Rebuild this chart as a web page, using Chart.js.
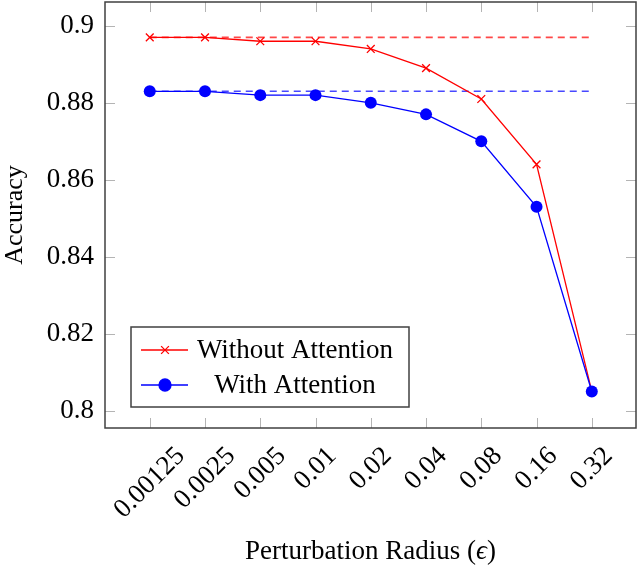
<!DOCTYPE html>
<html>
<head>
<meta charset="utf-8">
<script src="https://cdn.jsdelivr.net/npm/chart.js@4.4.1/dist/chart.umd.min.js"></script>
<style>
  html, body { margin: 0; padding: 0; background: #fff; }
  #wrap { width: 638px; height: 568px; }
</style>
</head>
<body>
<div id="wrap"><canvas id="accChart" width="638" height="568"></canvas></div>
<script>
// Perturbation radii (x categories)
const radii = ["0.00125", "0.0025", "0.005", "0.01", "0.02", "0.04", "0.08", "0.16", "0.32"];

// Accuracy values
const withoutAttention = [0.897, 0.897, 0.896, 0.896, 0.894, 0.889, 0.881, 0.864, 0.805];
const withAttention = [0.883, 0.883, 0.882, 0.882, 0.880, 0.877, 0.870, 0.853, 0.805];

// Dashed reference levels (clean accuracy)
const baselineWithout = 0.897;
const baselineWith = 0.883;

// Y axis ticks
const yTicks = [0.8, 0.82, 0.84, 0.86, 0.88, 0.9];
const yTickLabels = ["0.8", "0.82", "0.84", "0.86", "0.88", "0.9"];

const serif = "'Liberation Serif', 'Times New Roman', serif";
const RED = "#ff0000";
const BLUE = "#0000ff";

const toPoints = (vals) => vals.map((v, i) => ({ x: i, y: v }));
const lastIdx = radii.length - 1;

// pgfplots look: inward ticks on all four sides, frame, centred rotated labels, legend
const framePlugin = {
    id: "frame",
    afterDatasetsDraw(chart) {
        const { ctx, chartArea: a, scales } = chart;
        ctx.save();
        ctx.strokeStyle = "#b4b4b4";
        ctx.lineWidth = 1;
        ctx.beginPath();
        scales.x.ticks.forEach((t) => {
            const px = Math.round(scales.x.getPixelForValue(t.value)) + 0.5;
            ctx.moveTo(px, a.bottom); ctx.lineTo(px, a.bottom - 10);
            ctx.moveTo(px, a.top); ctx.lineTo(px, a.top + 10);
        });
        scales.y.ticks.forEach((t) => {
            const py = Math.round(scales.y.getPixelForValue(t.value)) + 0.5;
            ctx.moveTo(a.left, py); ctx.lineTo(a.left + 10, py);
            ctx.moveTo(a.right, py); ctx.lineTo(a.right - 10, py);
        });
        ctx.stroke();
        ctx.strokeStyle = "#404040";
        ctx.lineWidth = 1.5;
        ctx.strokeRect(a.left, a.top, a.right - a.left, a.bottom - a.top);
        ctx.restore();
    },
    afterDraw(chart) {
        const { ctx, chartArea: a, scales } = chart;
        ctx.save();

        // x tick labels, rotated 45 deg and centred on the tick
        ctx.fillStyle = "#000";
        ctx.font = "27px " + serif;
        ctx.textAlign = "center";
        ctx.textBaseline = "middle";
        scales.x.ticks.forEach((t) => {
            const label = radii[t.value];
            const w = ctx.measureText(label).width;
            const px = scales.x.getPixelForValue(t.value);
            const cy = a.bottom + 24 + 0.7071 * w / 2;
            ctx.save();
            ctx.translate(px, cy);
            ctx.rotate(-Math.PI / 4);
            ctx.fillText(label, 0, 0);
            ctx.restore();
        });

        // x axis title with italic epsilon
        const parts = [
            { s: "Perturbation Radius (", f: "27px " + serif },
            { s: "ϵ", f: "italic 27px " + serif },
            { s: ")", f: "27px " + serif }
        ];
        let total = 0;
        parts.forEach((p) => { ctx.font = p.f; p.w = ctx.measureText(p.s).width; total += p.w; });
        let tx = (a.left + a.right) / 2 - total / 2;
        ctx.textAlign = "left";
        ctx.textBaseline = "middle";
        parts.forEach((p) => { ctx.font = p.f; ctx.fillText(p.s, tx, 552); tx += p.w; });

        // legend box in lower left of the plot
        const bx = a.left + 26, by = a.bottom - 101, bw = 278, bh = 80;
        ctx.fillStyle = "#fff";
        ctx.fillRect(bx, by, bw, bh);
        ctx.strokeStyle = "#404040";
        ctx.lineWidth = 1.5;
        ctx.strokeRect(bx, by, bw, bh);
        const rows = [
            { label: "Without Attention", color: RED, style: "crossRot", r: 5.5, y: by + 23 },
            { label: "With Attention", color: BLUE, style: "circle", r: 6, y: by + 58 }
        ];
        rows.forEach((row) => {
            ctx.strokeStyle = row.color;
            ctx.fillStyle = row.color;
            ctx.lineWidth = 1.3;
            ctx.beginPath();
            ctx.moveTo(bx + 10, row.y);
            ctx.lineTo(bx + 57, row.y);
            ctx.stroke();
            Chart.helpers.drawPoint(ctx, { pointStyle: row.style, radius: row.r, borderWidth: 1.3 }, bx + 34, row.y);
            ctx.fillStyle = "#000";
            ctx.font = "27px " + serif;
            ctx.textAlign = "center";
            ctx.textBaseline = "middle";
            ctx.fillText(row.label, bx + 164, row.y + 1);
        });
        ctx.restore();
    }
};

const ctx = document.getElementById("accChart").getContext("2d");
const accChart = new Chart(ctx, {
    type: "line",
    data: {
        datasets: [
            {
                label: "Without Attention",
                data: toPoints(withoutAttention),
                borderColor: RED,
                backgroundColor: RED,
                borderWidth: 1.3,
                pointStyle: "crossRot",
                pointRadius: 5.5,
                pointBorderWidth: 1.3,
                tension: 0,
                order: 1
            },
            {
                label: "With Attention",
                data: toPoints(withAttention),
                borderColor: BLUE,
                backgroundColor: BLUE,
                borderWidth: 1.3,
                pointStyle: "circle",
                pointRadius: 6,
                pointBorderWidth: 0,
                tension: 0,
                order: 0
            },
            {
                label: "baseline without",
                data: [{ x: 0, y: baselineWithout }, { x: lastIdx, y: baselineWithout }],
                borderColor: "rgba(255, 40, 40, 0.85)",
                borderWidth: 1.6,
                borderDash: [7, 5],
                pointRadius: 0,
                order: 2
            },
            {
                label: "baseline with",
                data: [{ x: 0, y: baselineWith }, { x: lastIdx, y: baselineWith }],
                borderColor: "rgba(40, 40, 255, 0.85)",
                borderWidth: 1.6,
                borderDash: [7, 5],
                pointRadius: 0,
                order: 3
            }
        ]
    },
    options: {
        responsive: false,
        animation: false,
        layout: { autoPadding: false, padding: { top: 2, right: 2, left: 0, bottom: 0 } },
        plugins: {
            legend: { display: false },
            tooltip: { enabled: false }
        },
        scales: {
            x: {
                type: "linear",
                min: -0.81,
                max: lastIdx + 0.8,
                afterBuildTicks: (scale) => {
                    scale.ticks = radii.map((_, i) => ({ value: i }));
                },
                afterFit: (scale) => {
                    scale.height = 140;
                    scale.paddingLeft = 0;
                    scale.paddingRight = 0;
                },
                grid: { display: false, drawTicks: false },
                border: { display: false },
                ticks: { display: false }
            },
            y: {
                min: 0.7955,
                max: 0.9062,
                afterBuildTicks: (scale) => {
                    scale.ticks = yTicks.map((v) => ({ value: v }));
                },
                afterFit: (scale) => {
                    scale.width = 105;
                    scale.paddingTop = 0;
                    scale.paddingBottom = 0;
                },
                grid: { display: false, drawTicks: false },
                border: { display: false },
                ticks: {
                    color: "#000",
                    font: { family: serif, size: 27 },
                    padding: 11,
                    callback: (v) => yTickLabels[yTicks.indexOf(v)]
                },
                title: {
                    display: true,
                    text: "Accuracy",
                    color: "#000",
                    font: { family: serif, size: 26 },
                    padding: 0
                }
            }
        }
    },
    plugins: [framePlugin]
});
</script>
</body>
</html>
